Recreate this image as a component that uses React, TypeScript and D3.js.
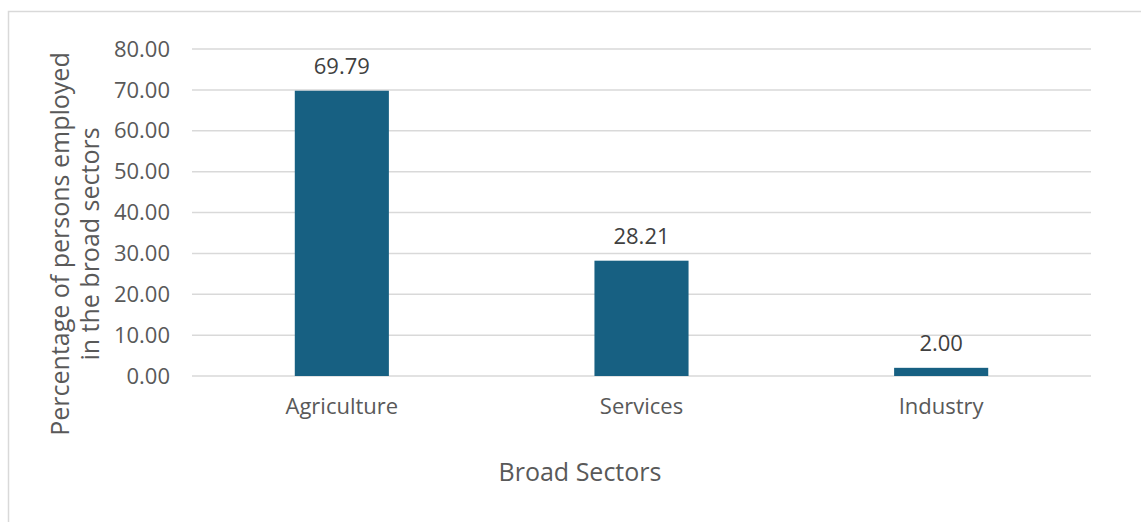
import React from "react";
import * as d3 from "d3";

const categories = ["Agriculture", "Services", "Industry"];
const values = [69.79, 28.21, 2.0];
const yTicks = [0, 10, 20, 30, 40, 50, 60, 70, 80];

const W = 1141;
const H = 522;
const FONT = "'Open Sans', 'Noto Sans', sans-serif";

export default function App() {
  const left = 192, right = 1091, top = 49, bottom = 376;
  const x = d3.scaleBand<string>().domain(categories).range([left, right]).paddingInner(0.686).paddingOuter(0.343);
  const y = d3.scaleLinear().domain([0, 80]).range([bottom, top]);
  return (
    <svg width={W} height={H} style={{ position: "absolute", left: 0, top: 0, background: "#fff" }}>
      <rect x={8.5} y={11.5} width={W + 20} height={H + 20} fill="#fff" stroke="#d9d9d9" strokeWidth={1.5} />
      {yTicks.map((t) => (
        <g key={t}>
          <line x1={left} x2={right} y1={y(t)} y2={y(t)} stroke="#d9d9d9" strokeWidth={1.5} />
          <text x={170} y={y(t)} dy="0.35em" textAnchor="end" fontFamily={FONT} fontSize={22} fill="#595959">
            {t.toFixed(2)}
          </text>
        </g>
      ))}
      {categories.map((c, i) => {
        const bx = x(c)!;
        const bw = x.bandwidth();
        return (
          <g key={c}>
            <rect x={bx} y={y(values[i])} width={bw} height={y(0) - y(values[i])} fill="#176082" />
            <text x={bx + bw / 2} y={y(values[i]) - 17} textAnchor="middle" fontFamily={FONT} fontSize={22} fill="#404040">
              {values[i].toFixed(2)}
            </text>
            <text x={bx + bw / 2} y={406} dy="0.35em" textAnchor="middle" fontFamily={FONT} fontSize={22} fill="#595959">
              {c}
            </text>
          </g>
        );
      })}
      <text x={580} y={472} dy="0.35em" textAnchor="middle" fontFamily={FONT} fontSize={25} fill="#595959">
        Broad Sectors
      </text>
      <g transform="translate(0,244) rotate(-90)">
        <text x={0} y={60} dy="0.35em" textAnchor="middle" fontFamily={FONT} fontSize={25} fill="#595959">
          Percentage of persons employed
        </text>
        <text x={0} y={90} dy="0.35em" textAnchor="middle" fontFamily={FONT} fontSize={25} fill="#595959">
          in the broad sectors
        </text>
      </g>
    </svg>
  );
}
